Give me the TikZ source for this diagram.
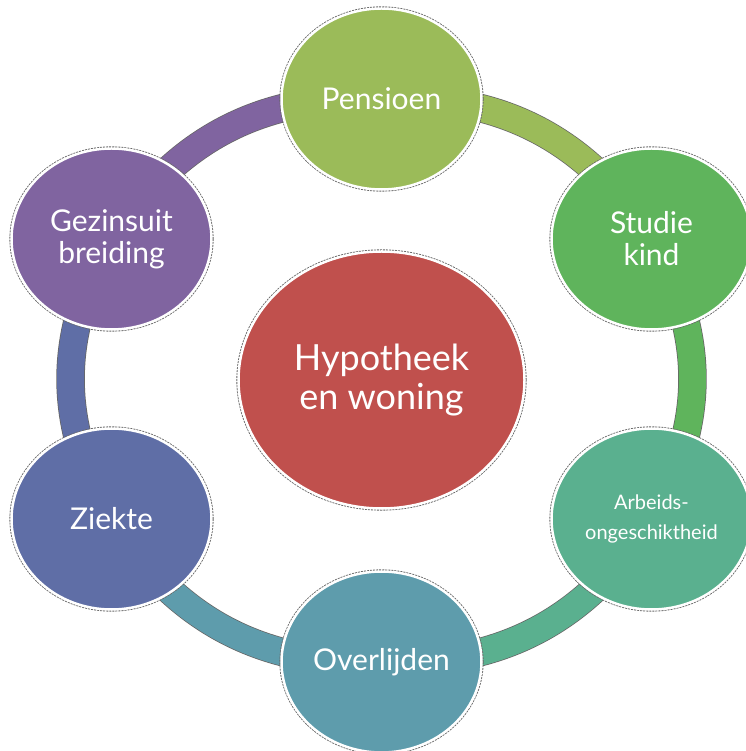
\documentclass[tikz,border=0pt]{standalone}
\usepackage{fontspec}
\setmainfont{Lato}
\usetikzlibrary{shapes.geometric,backgrounds}
\definecolor{woningred}{HTML}{C0504D}
\definecolor{pensgreen}{HTML}{9BBB59}
\definecolor{studgreen}{HTML}{5FB45C}
\definecolor{arbgreen}{HTML}{5AB08F}
\definecolor{overteal}{HTML}{5E9CAC}
\definecolor{ziekblue}{HTML}{5F6EA6}
\definecolor{gezpurple}{HTML}{8064A0}

\begin{document}
\begin{tikzpicture}[x=1pt, y=1pt,
		bubble/.style={ellipse, inner sep=0pt, minimum width=200pt, minimum height=181pt, draw=white, line width=2.5pt,
			preaction={draw=black!60, line width=4.2pt, dash pattern=on 2pt off 1pt},
			text=white, align=center, font=\fontsize{30}{32}\selectfont},
		band/.style={line width=27pt, preaction={draw=black!60, line width=28.5pt}}]
		\useasboundingbox (-381.5,-371) rectangle (363.5,380);

		\node[bubble, fill=woningred, minimum width=286pt, minimum height=257pt, font=\fontsize{36}{39}\selectfont] (hyp) at (0,0) {Hypotheek\\en woning};
		\node[bubble, fill=pensgreen] (pens) at (0,281) {Pensioen};
		\node[bubble, fill=studgreen] (stud) at (270,141) {Studie\\kind};
		\node[bubble, fill=arbgreen, font=\fontsize{20}{30}\selectfont] (arb) at (270,-139) {Arbeids-\\ongeschiktheid};
		\node[bubble, fill=overteal] (over) at (0,-282) {Overlijden};
		\node[bubble, fill=ziekblue] (ziek) at (-270,-139) {Ziekte};
		\node[bubble, fill=gezpurple] (gez) at (-270,141) {Gezinsuit\\breiding};

		\begin{pgfonlayer}{background}
			\draw[band, pensgreen] (pens.center) to[bend left=30] (stud.center);
			\draw[band, studgreen] (stud.center) to[bend left=30] (arb.center);
			\draw[band, arbgreen] (arb.center) to[bend left=30] (over.center);
			\draw[band, overteal] (over.center) to[bend left=30] (ziek.center);
			\draw[band, ziekblue] (ziek.center) to[bend left=30] (gez.center);
			\draw[band, gezpurple] (gez.center) to[bend left=30] (pens.center);
		\end{pgfonlayer}
	\end{tikzpicture}
\end{document}
